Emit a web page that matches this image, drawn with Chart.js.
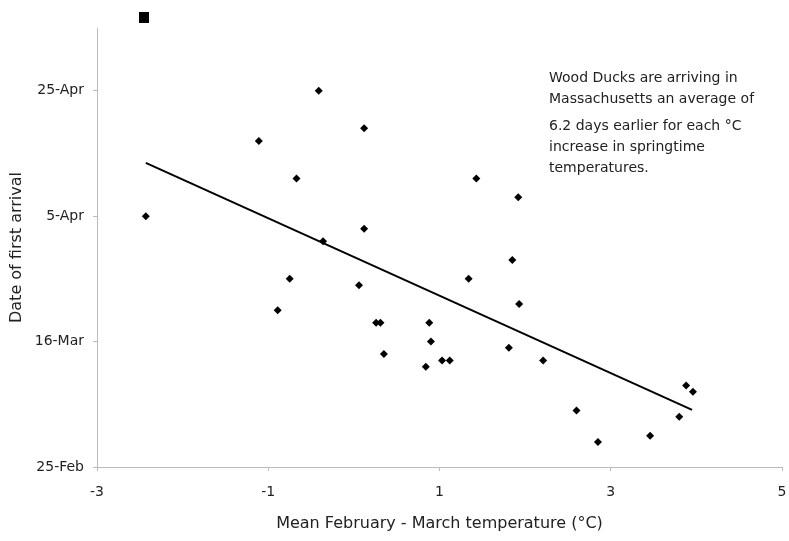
<!DOCTYPE html>
<html>
<head>
<meta charset="utf-8">
<script src="https://cdn.jsdelivr.net/npm/chart.js@4.4.1/dist/chart.umd.min.js"></script>
<style>
  html, body { margin: 0; padding: 0; background: #fff; }
  #wrap { width: 789px; height: 541px; }
</style>
</head>
<body>
<div id="wrap"><canvas id="c" width="789" height="541"></canvas></div>
<script>
// Mean Feb-Mar temperature (°C)
const temps = [-2.43, -1.11, -0.67, -0.41, 0.12, 1.43, 1.92, -0.89, -0.75, -0.36, 0.12, 0.06, 0.26, 0.31, 0.35, 0.88, 0.90, 0.84, 1.03, 1.12, 1.34, 1.85, 1.93, 1.81, 2.21, 2.60, 2.85, 3.46, 3.80, 3.88, 3.96];
// Date of first arrival, as days after 25-Feb
const arrivalDays = [40, 52, 46, 60, 54, 46, 43, 25, 30, 36, 38, 29, 23, 23, 18, 23, 20, 16, 17, 17, 30, 33, 26, 19, 17, 9, 4, 5, 8, 13, 12];
// Trend line end points
const trendX = [-2.43, 3.95];
const trendY = [48.5, 9.1];
// Stray square marker at top
const squareX = [-2.45];
const squareY = [71.7];
// Tick labels
const xTickValues = [-3, -1, 1, 3, 5];
const yTickValues = [0, 20, 40, 60];
const yTickLabels = ['25-Feb', '16-Mar', '5-Apr', '25-Apr'];
// Annotation
const noteLines = ['Wood Ducks are arriving in', 'Massachusetts an average of', '6.2 days earlier for each °C', 'increase in springtime', 'temperatures.'];
const noteLineY = [78, 99, 126, 147, 168];

const FONT = 'DejaVu Sans';
const TXT = '#222';

const notePlugin = {
  id: 'note',
  afterDraw(chart) {
    const ctx = chart.ctx;
    ctx.save();
    ctx.font = '14px "' + FONT + '"';
    ctx.fillStyle = TXT;
    ctx.textAlign = 'left';
    ctx.textBaseline = 'middle';
    noteLines.forEach((t, i) => ctx.fillText(t, 549, noteLineY[i]));
    // square marker drawn outside chart area through the scales
    const xs = chart.scales.x, ys = chart.scales.y;
    ctx.fillStyle = '#000';
    squareX.forEach((v, i) => {
      const px = xs.getPixelForValue(v), py = ys.getPixelForValue(squareY[i]);
      ctx.fillRect(Math.round(px - 5), Math.round(py - 5.5), 10, 11);
    });
    ctx.restore();
  }
};

new Chart(document.getElementById('c'), {
  type: 'scatter',
  data: {
    datasets: [
      {
        label: 'Arrivals',
        data: temps.map((x, i) => ({ x: x, y: arrivalDays[i] })),
        pointStyle: 'rectRot',
        radius: 4,
        backgroundColor: '#000',
        borderColor: '#000',
        borderWidth: 0
      },
      {
        label: 'Trend',
        type: 'line',
        data: trendX.map((x, i) => ({ x: x, y: trendY[i] })),
        borderColor: '#000',
        borderWidth: 2,
        pointRadius: 0,
        fill: false
      }
    ]
  },
  options: {
    responsive: false,
    animation: false,
    devicePixelRatio: 1,
    layout: { padding: { top: 28, right: 7, left: 0, bottom: 0 } },
    plugins: { legend: { display: false }, tooltip: { enabled: false } },
    scales: {
      x: {
        type: 'linear',
        min: -3, max: 5,
        afterBuildTicks(scale) { scale.ticks = xTickValues.map(v => ({ value: v })); },
        afterFit(scale) { scale.height = 74; scale.paddingLeft = 0; scale.paddingRight = 0; },
        grid: { drawOnChartArea: false, color: '#bbb', tickLength: 4 },
        border: { color: '#bbb', width: 1 },
        ticks: { color: TXT, font: { family: FONT, size: 14 }, padding: 13, maxRotation: 0 },
        title: { display: true, text: 'Mean February - March temperature (°C)', color: TXT, font: { family: FONT, size: 16 }, padding: { top: 0, bottom: 8 } }
      },
      y: {
        type: 'linear',
        min: 0, max: 70,
        afterBuildTicks(scale) { scale.ticks = yTickValues.map(v => ({ value: v })); },
        afterFit(scale) { scale.width = 97; scale.paddingTop = 0; scale.paddingBottom = 0; },
        grid: { drawOnChartArea: false, color: '#bbb', tickLength: 4 },
        border: { color: '#bbb', width: 1 },
        ticks: {
          color: TXT, font: { family: FONT, size: 14 }, padding: 9,
          callback: (v) => { const i = yTickValues.indexOf(v); return i >= 0 ? yTickLabels[i] : ''; }
        },
        title: { display: true, text: 'Date of first arrival', color: TXT, font: { family: FONT, size: 16 }, padding: { top: 7, bottom: 0 } }
      }
    }
  },
  plugins: [notePlugin]
});
</script>
</body>
</html>
